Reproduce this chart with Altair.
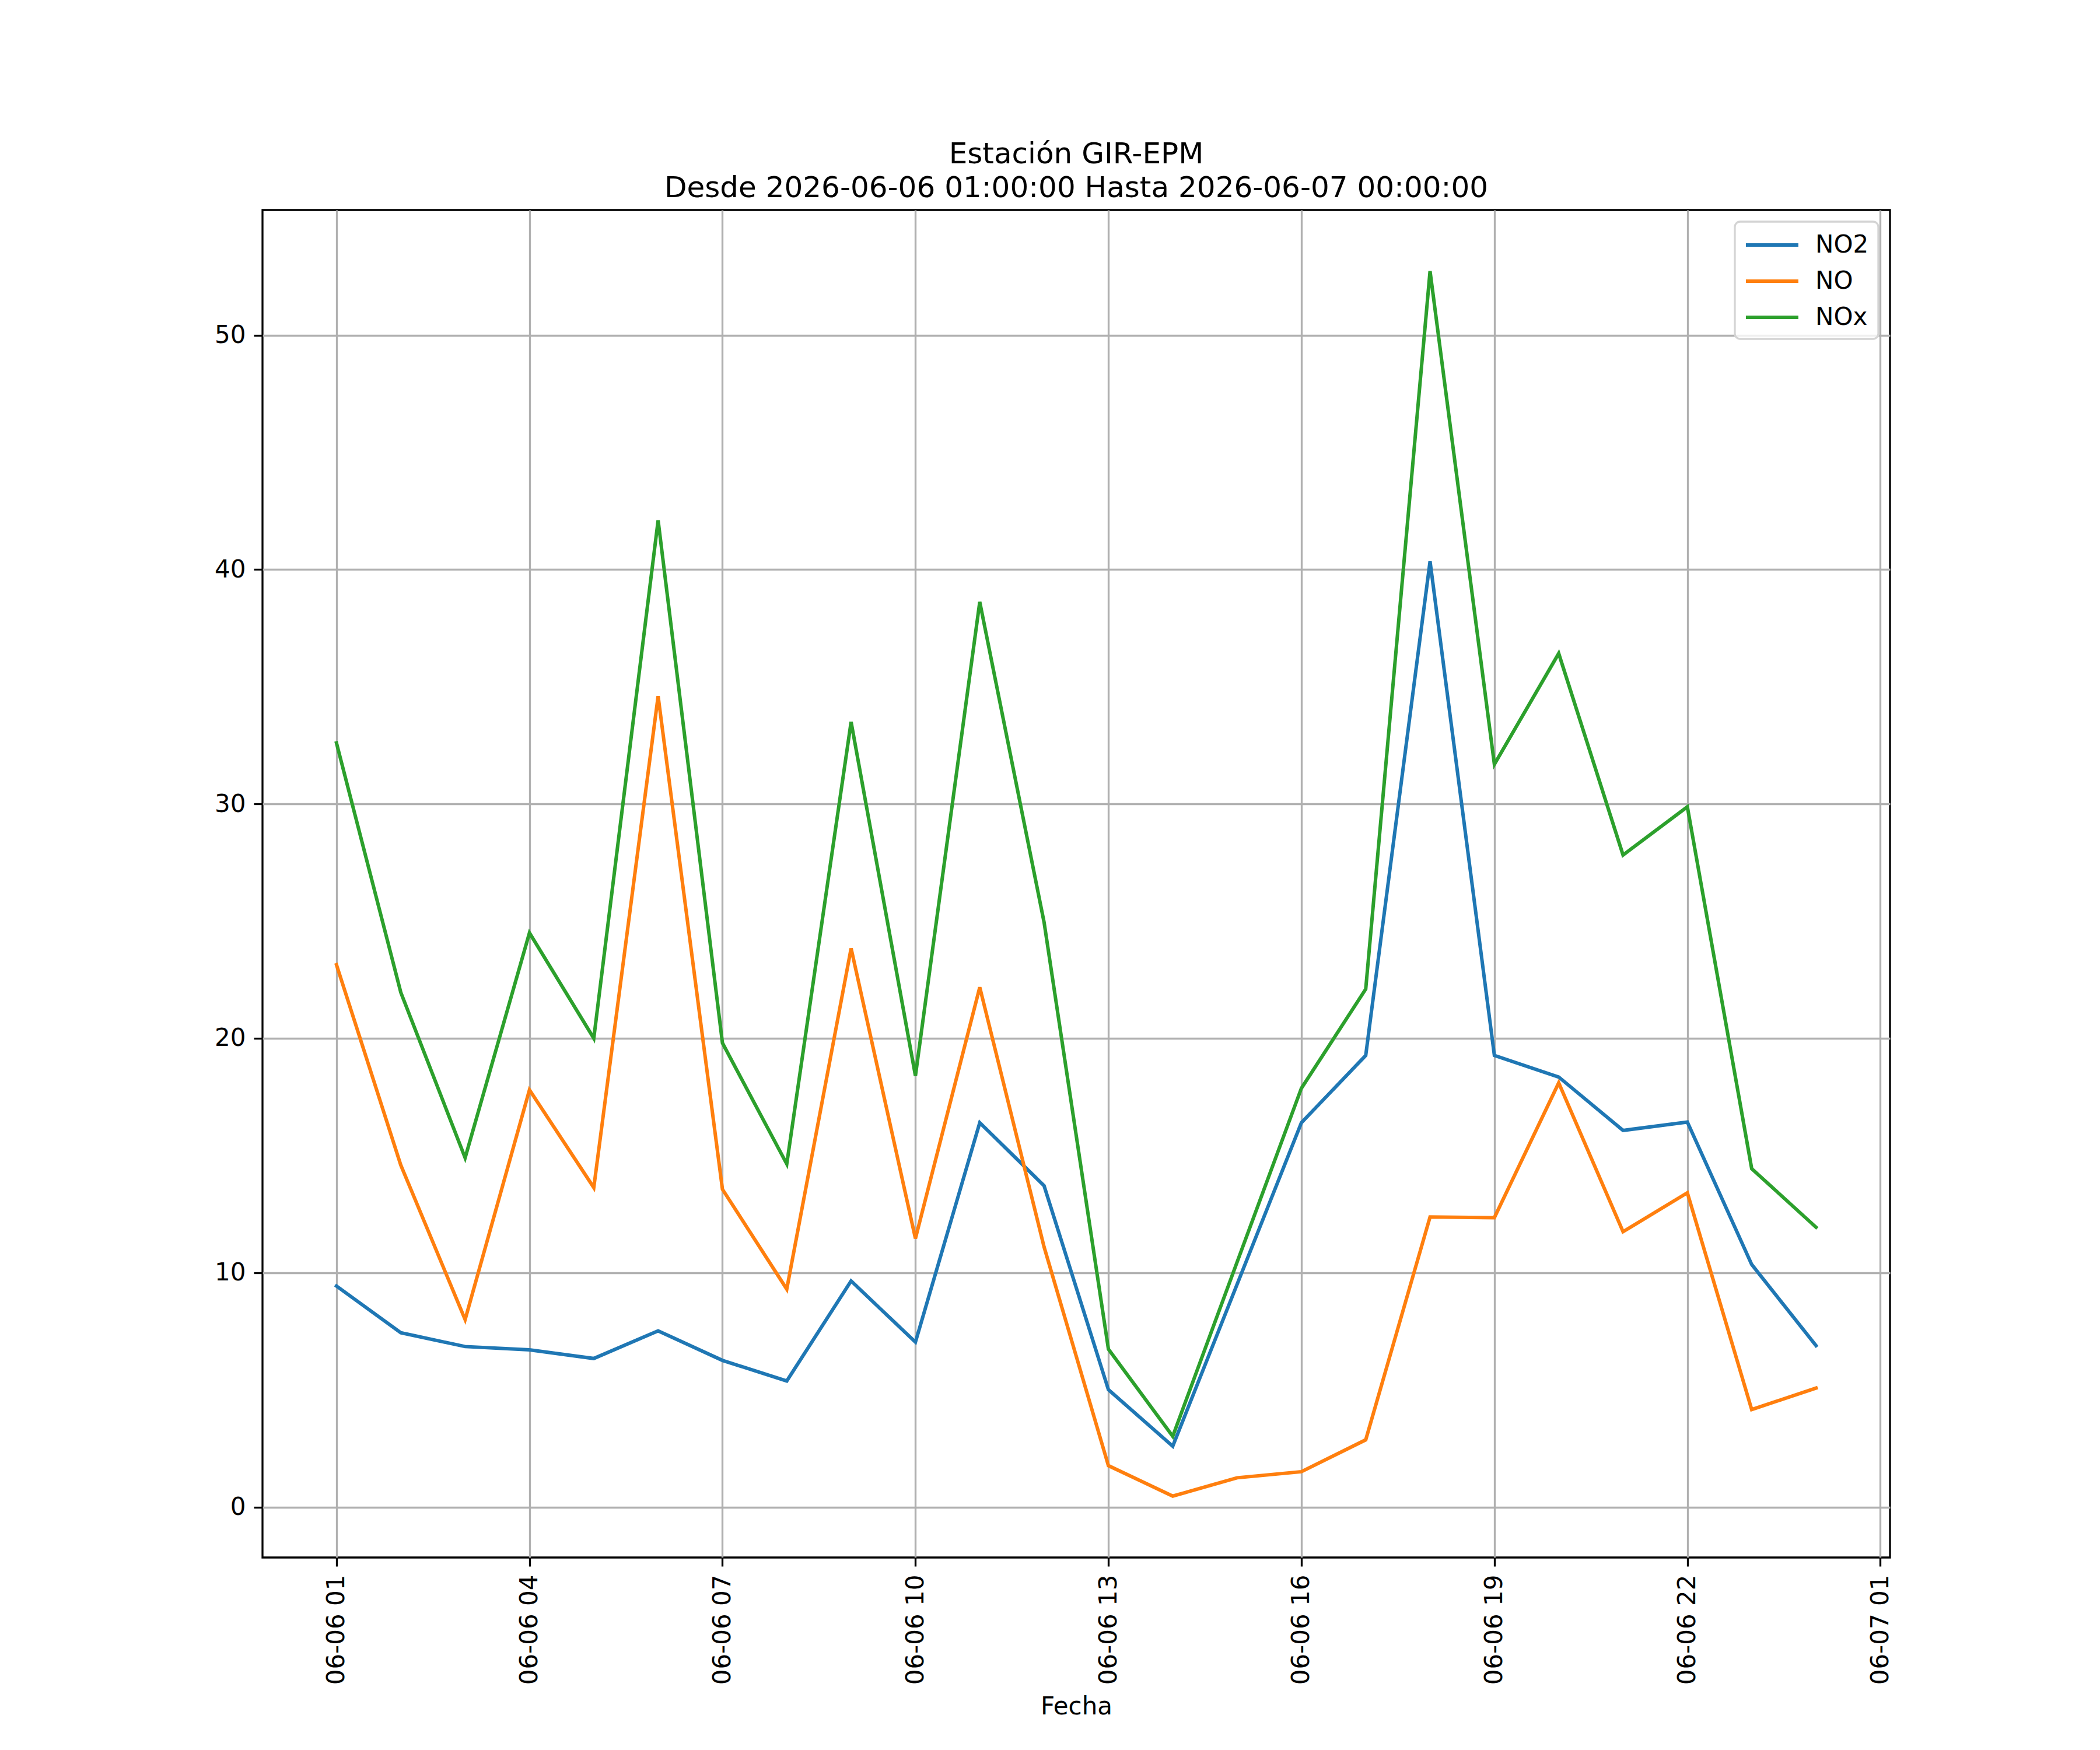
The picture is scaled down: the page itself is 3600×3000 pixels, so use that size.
import altair as alt
import pandas as pd

# hourly readings, 2026-06-06 01:00 .. 2026-06-07 00:00
fechas = pd.date_range("2026-06-06 01:00", "2026-06-07 00:00", freq="h").strftime("%Y-%m-%dT%H:%M:%S").tolist()

no2 = [9.43, 7.44, 6.85, 6.71, 6.34, 7.52, 6.26, 5.38, 9.65, 7.04, 16.4, 13.71,
       5.01, 2.6, 9.5, 16.4, 19.27, 40.35, 19.27, 18.35, 16.07, 16.43, 10.35, 6.89]
no = [23.14, 14.59, 8.0, 17.8, 13.63, 34.6, 13.56, 9.3, 23.84, 11.46, 22.18, 11.1,
      1.77, 0.47, 1.25, 1.51, 2.87, 12.38, 12.35, 18.1, 11.75, 13.41, 4.16, 5.08]
nox = [32.6, 21.96, 14.9, 24.5, 20.0, 42.1, 19.8, 14.64, 33.5, 18.4, 38.62, 24.95,
       6.74, 3.02, 10.45, 17.87, 22.1, 52.73, 31.69, 36.42, 27.82, 29.88, 14.44, 11.94]

series = ["NO2", "NO", "NOx"]
colors = ["#1f77b4", "#ff7f0e", "#2ca02c"]

rows = []
for name, vals in zip(series, [no2, no, nox]):
    for f, v in zip(fechas, vals):
        rows.append({"Fecha": f, "serie": name, "valor": v})
source = pd.DataFrame(rows)

tick_hours = [(6, 1), (6, 4), (6, 7), (6, 10), (6, 13), (6, 16), (6, 19), (6, 22), (7, 1)]
x_ticks = [alt.DateTime(year=2026, month=6, date=d, hours=h) for d, h in tick_hours]

FONT = "DejaVu Sans"

chart = (
    alt.Chart(source)
    .mark_line(strokeWidth=6, strokeJoin="miter", strokeCap="square")
    .encode(
        alt.X(
            "Fecha:T",
            title="Fecha",
            scale=alt.Scale(
                domain=[
                    alt.DateTime(year=2026, month=6, date=5, hours=23, minutes=51),
                    alt.DateTime(year=2026, month=6, date=7, hours=1, minutes=9),
                ],
                nice=False,
            ),
            axis=alt.Axis(
                values=x_ticks,
                format="%m-%d %H",
                labelAngle=-90,
                labelFontSize=42,
                labelPadding=14,
                labelLimit=0,
                tickSize=15,
                titleFontSize=42,
                titleFontWeight="normal",
                titlePadding=35,
            ),
        ),
        alt.Y(
            "valor:Q",
            title=None,
            scale=alt.Scale(domain=[-2.15, 55.34], nice=False, zero=False),
            axis=alt.Axis(
                values=[0, 10, 20, 30, 40, 50],
                labelFontSize=42,
                labelPadding=14,
                tickSize=15,
            ),
        ),
        alt.Color(
            "serie:N",
            scale=alt.Scale(domain=series, range=colors),
            legend=alt.Legend(
                title=None,
                orient="top-right",
                offset=20,
                labelFontSize=42,
                labelOffset=74,
                # long line segment drawn from a small symbol box
                symbolType="M-1,0H3.28",
                symbolSize=1764,
                symbolStrokeWidth=6,
                rowPadding=17,
                padding=16,
                fillColor="rgba(255,255,255,0.8)",
                strokeColor="#d4d4d4",
                cornerRadius=9,
            ),
        ),
        detail="serie:N",
    )
    .properties(
        width=2790,
        height=2310,
        title=alt.TitleParams(
            ["Estación GIR-EPM", "Desde 2026-06-06 01:00:00 Hasta 2026-06-07 00:00:00"],
            fontSize=50,
            fontWeight="normal",
            font=FONT,
            anchor="middle",
            lineHeight=58,
            offset=12,
            color="black",
        ),
        padding={"left": 442, "top": 352, "right": 352, "bottom": 322},
        autosize=alt.AutoSizeParams(type="none"),
    )
    .configure(font=FONT)
    .configure_axis(
        grid=True,
        gridColor="#b0b0b0",
        gridWidth=3.3,
        domain=False,
        tickColor="black",
        tickWidth=3.3,
        labelColor="black",
        titleColor="black",
        labelFont=FONT,
        titleFont=FONT,
    )
    .configure_legend(labelFont=FONT, labelColor="black", strokeWidth=3.3)
    .configure_view(stroke="black", strokeWidth=3.3)
)

chart.save("out.html", embed_options={"renderer": "svg", "actions": False})
